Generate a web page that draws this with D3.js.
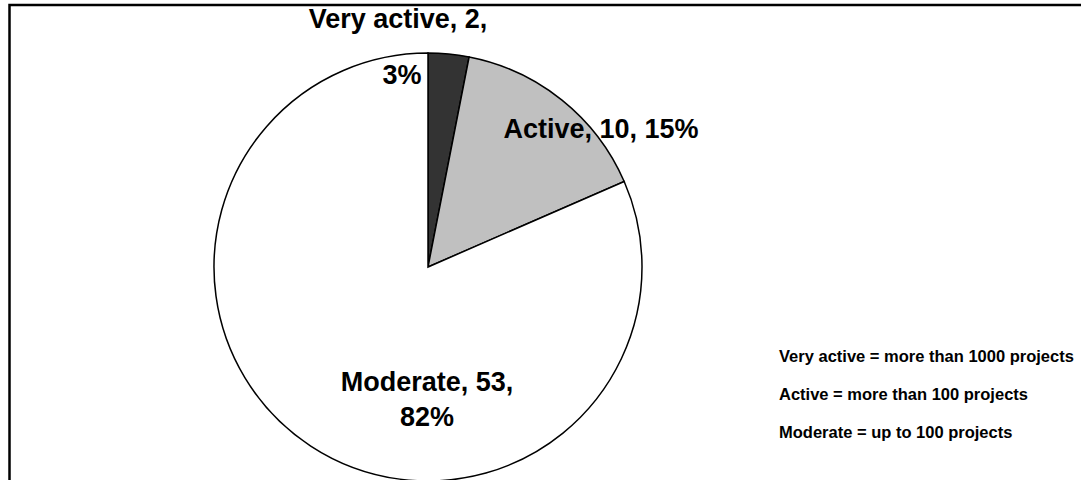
<!DOCTYPE html>
<html>
<head>
<meta charset="utf-8">
<script src="https://cdn.jsdelivr.net/npm/d3@7"></script>
<style>
  body { margin: 0; background: #fff; }
  svg { display: block; }
  text { font-family: "Liberation Sans", Arial, sans-serif; font-weight: bold; fill: #000; }
</style>
</head>
<body>
<svg id="chart"></svg>
<script>
// data
const categories = ["Very active", "Active", "Moderate"];
const counts = [2, 10, 53];
const percents = ["3%", "15%", "82%"];
const sliceColors = ["#333333", "#c0c0c0", "#ffffff"];
const legendLines = [
  "Very active = more than 1000 projects",
  "Active = more than 100 projects",
  "Moderate = up to 100 projects"
];

const WIDTH = 1081;
const HEIGHT = 480;

let svg = d3.select("#chart")
  .attr("width", WIDTH)
  .attr("height", HEIGHT);

// chart frame (runs off the right and bottom)
svg.append("rect")
  .attr("x", 9.5)
  .attr("y", 5)
  .attr("width", WIDTH + 20)
  .attr("height", HEIGHT + 20)
  .style("fill", "#fff")
  .style("stroke", "#000")
  .style("stroke-width", 2.5);

let cx = 428, cy = 267, radius = 214;

let pie = d3.pie()
  .sort(null)
  .value(d => d);

let arc = d3.arc()
  .innerRadius(0)
  .outerRadius(radius);

let arcs = pie(counts);

let g = svg.append("g")
  .attr("transform", "translate(" + cx + "," + cy + ")");

g.selectAll(".slice")
  .data(arcs)
.enter().append("path")
  .attr("class", "slice")
  .attr("d", arc)
  .style("fill", (d, i) => sliceColors[i])
  .style("stroke", "#000")
  .style("stroke-width", 1.5);

// data labels: [x, y of first baseline, line gap] relative to pie centre
let labelPos = [[-30, -239, 56], [173, -129, 35], [-1, 124, 35]];
let labelLines = [
  [categories[0] + ", " + counts[0] + ",", percents[0]],
  [categories[1] + ", " + counts[1] + ", " + percents[1]],
  [categories[2] + ", " + counts[2] + ",", percents[2]]
];

labelLines.forEach((lines, i) => {
  let t = g.append("text")
    .attr("class", "label")
    .attr("x", labelPos[i][0])
    .attr("y", labelPos[i][1])
    .attr("text-anchor", "middle")
    .style("font-size", "27px");
  lines.forEach((l, j) => {
    t.append("tspan")
      .attr("x", labelPos[i][0] + (i === 0 && j === 1 ? 4 : 0))
      .attr("dy", j === 0 ? 0 : labelPos[i][2])
      .text(l);
  });
});

// note text on the right
svg.append("g")
  .attr("class", "notes")
.selectAll("text")
  .data(legendLines)
.enter().append("text")
  .attr("x", 779)
  .attr("y", (d, i) => 362 + i * 38)
  .style("font-size", "16.5px")
  .text(d => d);
</script>
</body>
</html>
